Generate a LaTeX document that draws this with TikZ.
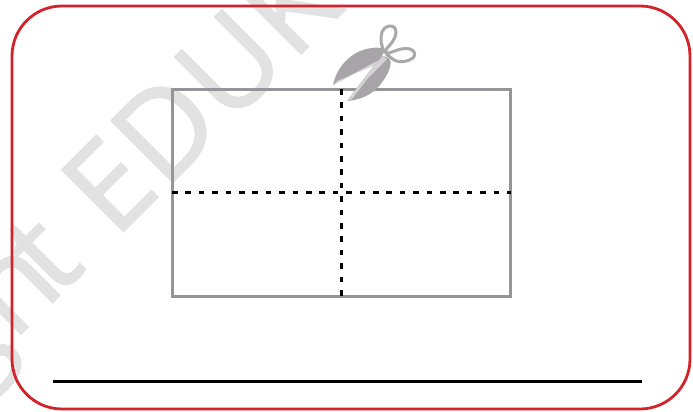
\documentclass[tikz,border=0pt]{standalone}
\usepackage{fontspec}
\setmainfont{Open Sans}[FakeBold=1.5,LetterSpace=1.5]
\definecolor{wm}{HTML}{E2E2E3}
\definecolor{framered}{HTML}{D2232A}
\definecolor{sheet}{HTML}{939598}
\definecolor{bladedark}{HTML}{A7A5A8}
\definecolor{bladelight}{HTML}{D3D3D4}
\definecolor{ringgrey}{HTML}{A9A8AB}
\tikzset{
  cutline/.style={draw=black,line width=2.5pt,dash pattern=on 5.5pt off 7.9pt},
  ring/.style={draw=ringgrey,line width=3pt,fill=white,line join=round}
}
\begin{document}
\begin{tikzpicture}[x=1pt,y=-1pt]
\useasboundingbox (0,0) rectangle (693,412);
\begin{scope}
\clip (0,0) rectangle (693,412);
\node[anchor=base west,rotate=45,inner sep=0pt,text=wm,font=\fontsize{122}{122}\selectfont] (mark) at (-35,390) {gh\kern-14pt t\hspace{6pt} EDUK};
\end{scope}
\draw[framered,line width=2.8pt,rounded corners=50pt] (12,6) rectangle (690,409);
\coordinate (tl) at (172,89);
\coordinate (br) at (510.5,296);
\coordinate (vt) at (341.5,89);
\coordinate (vb) at (341.5,297);
\coordinate (hl) at (172,192.5);
\coordinate (hr) at (510.5,192.5);
\draw[sheet,line width=3pt] (tl) rectangle (br);
\draw[cutline] (vt) -- (vb);
\draw[cutline] (hl) -- (hr);
\coordinate (ll) at (53,381.5);
\coordinate (lr) at (642,381.5);
\draw[black,line width=2.8pt] (ll) -- (lr);
% scissors handles
\draw[ring] (385,53) .. controls (381,47) and (380,38) .. (382,32)
  .. controls (384,26) and (392,24) .. (395,28)
  .. controls (398,33) and (394,41) .. (389,46)
  .. controls (386,49) and (385,51) .. (386,54);
\draw[ring] (386,54) .. controls (393,52) and (400,48) .. (407,48.5)
  .. controls (414,49) and (417,54) .. (413,58)
  .. controls (408,62) and (399,63) .. (394,60)
  .. controls (391,58) and (389,56) .. (386,54);
% blade one
\fill[bladedark] (333,85) .. controls (336,70) and (346,58) .. (358,52)
  .. controls (367,48) and (375,47) .. (382,48)
  .. controls (383,50) and (383,52) .. (383,54) -- (379,60) -- cycle;
\fill[bladelight] (333,85) -- (379,60) -- (378,64) -- (337,81) -- cycle;
% blade two
\fill[bladedark] (347,101) .. controls (360,100) and (372,95) .. (380,85)
  .. controls (389,74) and (392,64) .. (390,60)
  .. controls (388,57) and (385,56) .. (382,56) -- (376,63) -- cycle;
\fill[bladelight] (347,101) -- (376,63) -- (383,56) -- (387,59) -- (368,78) -- (352,99) -- cycle;
\end{tikzpicture}
\end{document}
